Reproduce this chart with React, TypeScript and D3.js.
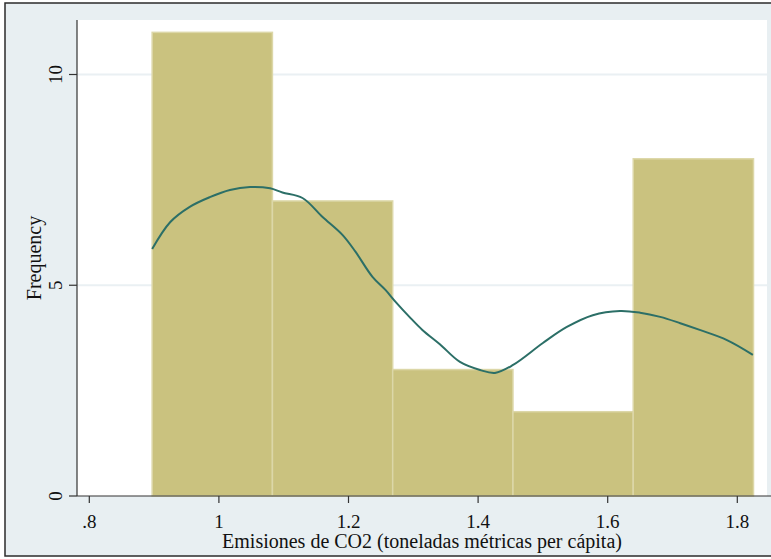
import React from "react";
import * as d3 from "d3";

// Histogram bins (lower edges) and frequencies
const binStart = 0.897;
const binWidth = 0.1856;
const frequencies = [11, 7, 3, 2, 8];

// Kernel density overlay, on the frequency scale
const densityX = [0.897, 0.925, 0.955, 0.986, 1.017, 1.048, 1.079, 1.098, 1.129, 1.16, 1.191, 1.211, 1.237, 1.257, 1.273, 1.294, 1.314, 1.341, 1.372, 1.403, 1.426, 1.454, 1.5, 1.537, 1.577, 1.619, 1.65, 1.681, 1.712, 1.742, 1.784, 1.824];
const densityY = [5.86, 6.5, 6.86, 7.09, 7.26, 7.33, 7.3, 7.2, 7.07, 6.62, 6.19, 5.79, 5.2, 4.89, 4.6, 4.25, 3.94, 3.6, 3.18, 2.99, 2.92, 3.11, 3.63, 4.01, 4.29, 4.39, 4.35, 4.25, 4.1, 3.94, 3.7, 3.35];

const xTicks = [0.8, 1, 1.2, 1.4, 1.6, 1.8];
const xTickLabels = [".8", "1", "1.2", "1.4", "1.6", "1.8"];
const yTicks = [0, 5, 10];

const xTitle = "Emisiones de CO2 (toneladas métricas per cápita)";
const yTitle = "Frequency";

export default function App() {
  const W = 771;
  const H = 559;
  const plotL = 77;
  const plotR = 767;
  const plotT = 20;
  const plotB = 496;

  const x = d3.scaleLinear().domain([0.8, 1.8]).range([89.3, 737.3]);
  const y = d3.scaleLinear().domain([0, 10]).range([plotB, 74.5]);

  const line = d3
    .line<number>()
    .x((_, i) => x(densityX[i]))
    .y((d) => y(d))
    .curve(d3.curveCatmullRom.alpha(0.5));

  const font = "'Liberation Serif', 'Times New Roman', serif";

  return (
    <svg
      width={W}
      height={H}
      style={{ position: "absolute", left: 0, top: 0, display: "block" }}
    >
      <rect x={0} y={0} width={W} height={H} fill="#ffffff" />
      <rect x={5} y={3} width={W + 10} height={553} fill="#e8eff2" stroke="#2b2b2b" strokeWidth={1.5} />
      <rect x={plotL} y={plotT} width={plotR - plotL} height={plotB - plotT} fill="#ffffff" />

      {/* gridlines */}
      {yTicks.slice(1).map((t) => (
        <line key={t} x1={plotL} x2={plotR} y1={y(t)} y2={y(t)} stroke="#eaf0f3" strokeWidth={2} />
      ))}

      {/* bars */}
      {frequencies.map((f, i) => {
        const x0 = x(binStart + i * binWidth);
        const x1 = x(binStart + (i + 1) * binWidth);
        return (
          <rect
            key={i}
            x={x0}
            y={y(f)}
            width={x1 - x0}
            height={y(0) - y(f)}
            fill="#cac27f"
            stroke="#dcd7a8"
            strokeWidth={1.5}
          />
        );
      })}

      {/* density curve */}
      <path d={line(densityY) || ""} fill="none" stroke="#2c6f67" strokeWidth={2} />

      {/* axes */}
      <line x1={plotL} x2={plotL} y1={plotT} y2={plotB} stroke="#333" strokeWidth={1.2} />
      <line x1={plotL} x2={W} y1={plotB} y2={plotB} stroke="#333" strokeWidth={1.2} />

      {yTicks.map((t) => (
        <g key={t}>
          <line x1={plotL - 8} x2={plotL} y1={y(t)} y2={y(t)} stroke="#333" strokeWidth={1.2} />
          <text
            transform={`translate(${62},${y(t)}) rotate(-90)`}
            textAnchor="middle"
            fontFamily={font}
            fontSize={19}
            fill="#111"
          >
            {t}
          </text>
        </g>
      ))}

      {xTicks.map((t, i) => (
        <g key={t}>
          <line x1={x(t)} x2={x(t)} y1={plotB} y2={plotB + 7} stroke="#333" strokeWidth={1.2} />
          <text x={x(t)} y={528} textAnchor="middle" fontFamily={font} fontSize={19} fill="#111">
            {xTickLabels[i]}
          </text>
        </g>
      ))}

      <text x={(plotL + plotR) / 2} y={548} textAnchor="middle" fontFamily={font} fontSize={20} fill="#111">
        {xTitle}
      </text>
      <text
        transform={`translate(${41},${(plotT + plotB) / 2}) rotate(-90)`}
        textAnchor="middle"
        fontFamily={font}
        fontSize={20}
        fill="#111"
      >
        {yTitle}
      </text>
    </svg>
  );
}
